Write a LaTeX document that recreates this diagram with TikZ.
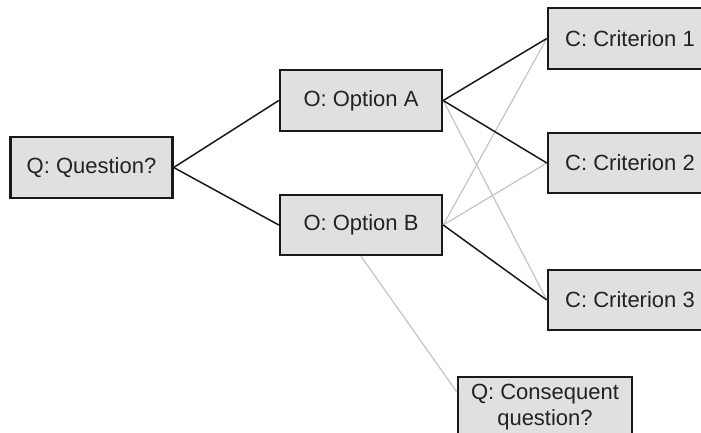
\documentclass[tikz,border=0pt]{standalone}
\usepackage{fontspec}
\setmainfont{Liberation Sans}
\usetikzlibrary{calc}
\definecolor{boxfill}{HTML}{E0E0E0}
\definecolor{textgray}{HTML}{222222}
\definecolor{linkgray}{HTML}{C4C4C4}
\tikzset{
  card/.style={draw=black!90, line width=2.4pt, fill=boxfill, rectangle,
    inner sep=0pt, text=textgray, font=\fontsize{22}{26}\selectfont,
    align=center},
  strong/.style={draw=black!90, line width=1.5pt},
  weak/.style={draw=linkgray, line width=1.2pt},
}
\begin{document}
\begin{tikzpicture}[x=1pt, y=-1pt]
  \useasboundingbox (0,0) rectangle (701,433);
  \fill[white] (0,0) rectangle (701,433);
  \clip (0,0) rectangle (701,433);

  % boxes
  \node[card, minimum width=162pt, minimum height=61pt] (q)  at (91.5,167.5) {Q: Question?};
  \node[card, minimum width=162pt, minimum height=61pt] (oa) at (361,100.5) {O: Option A};
  \node[card, minimum width=162pt, minimum height=60pt] (ob) at (361,225)   {O: Option B};
  \node[card, minimum width=164pt, minimum height=61pt] (c1) at (630,38.5)  {C: Criterion 1};
  \node[card, minimum width=164pt, minimum height=60pt] (c2) at (630,163)   {C: Criterion 2};
  \node[card, minimum width=164pt, minimum height=60pt] (c3) at (630,300)   {C: Criterion 3};
  \node[card, minimum width=174pt, minimum height=60pt, anchor=north] (cq) at (545,376)
    {Q: Consequent\\question?};

  % secondary (grey) links
  \draw[weak] (ob.east) -- (c1.west);
  \draw[weak] (ob.east) -- (c2.west);
  \draw[weak] (oa.east) -- (c3.west);
  \draw[weak] (ob.south) -- ($(cq.north west)+(0,16)$);

  % main (black) links
  \draw[strong] (q.east)  -- (oa.west);
  \draw[strong] (q.east)  -- (ob.west);
  \draw[strong] (oa.east) -- (c1.west);
  \draw[strong] (oa.east) -- (c2.west);
  \draw[strong] (ob.east) -- (c3.west);
\end{tikzpicture}
\end{document}
